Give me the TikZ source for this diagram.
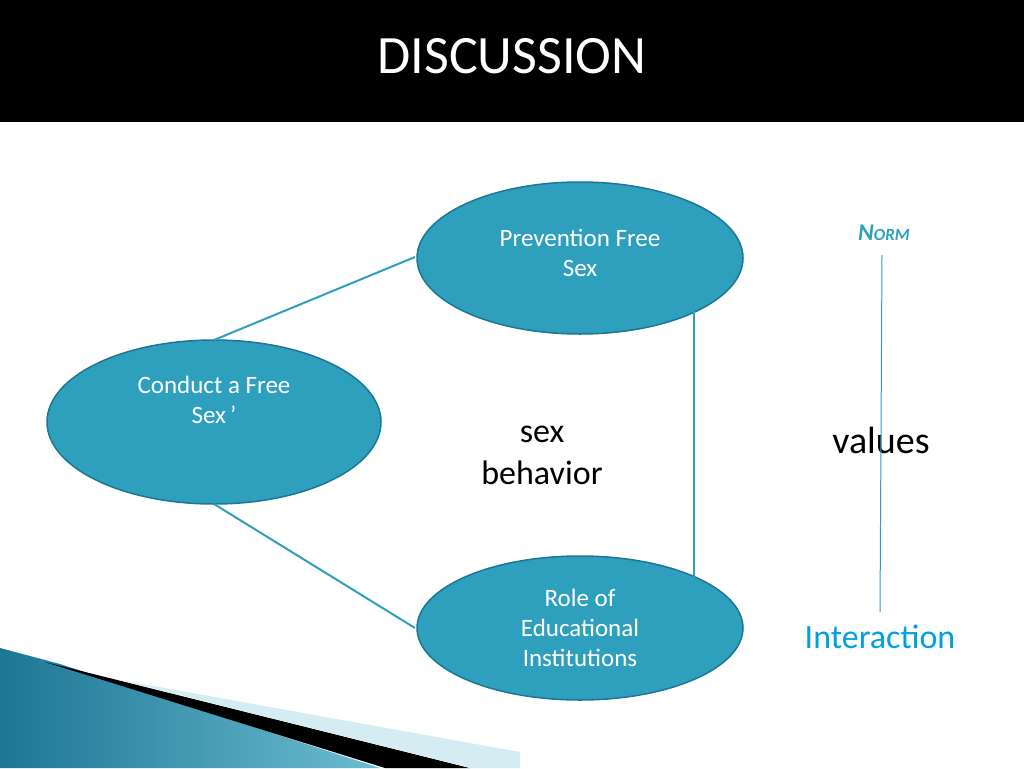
\documentclass[tikz,border=0pt]{standalone}
\usepackage{fontspec}
\setmainfont{Carlito}
\definecolor{teal1}{RGB}{46,160,190}
\definecolor{tealdk}{RGB}{28,118,148}
\definecolor{ibl}{RGB}{0,160,220}
\begin{document}
\begin{tikzpicture}[x=1pt,y=-1pt,
  ell/.style={ellipse,draw=tealdk,line width=1.5pt,fill=teal1,text=white,align=center,font=\fontsize{25}{30}\selectfont},
  conn/.style={draw=teal1,line width=2pt}]
\usetikzlibrary{shapes.geometric}
\useasboundingbox (0,0) rectangle (1024,768);
\fill[black] (0,0) rectangle (1024,122);
\node[text=white,font=\fontsize{54}{60}\selectfont] (title) at (512,56) {DISCUSSION};
% bottom-left decoration
\shade[left color=tealdk,right color=teal1!70] (0,648) -- (60,664) -- (380,768) -- (0,768) -- cycle;
\fill[black] (45,662) -- (470,768) -- (385,768) -- cycle;
\fill[teal1!20] (120,680) -- (520,752) -- (520,768) -- (470,768) -- cycle;
\node[ell,minimum width=326,minimum height=152] (prev) at (580,258) {Prevention Free\\Sex\\[-0.8em]};
\node[ell,minimum width=334,minimum height=164] (cond) at (214,422) {Conduct a Free\\Sex\,’\\[0.6em]};
\node[ell,minimum width=326,minimum height=144] (role) at (580,628) {Role of\\Educational\\Institutions};
\coordinate (c1) at (214,340); \coordinate (p1) at (415,257);
\coordinate (c2) at (214,504); \coordinate (r1) at (415,628);
\coordinate (p2) at (694,310); \coordinate (r2) at (694,580);
\draw[conn] (c1) -- (p1);
\draw[conn] (c2) -- (r1);
\draw[conn] (p2) -- (r2);
\node[font=\fontsize{34}{42}\selectfont,align=center] (sb) at (542,455) {sex\\behavior};
\node[text=teal1,font=\bfseries\itshape\fontsize{24}{28}\selectfont] (norm) at (884,233) {N{\fontsize{17}{20}\selectfont ORM}};
\node[font=\fontsize{38}{44}\selectfont] (val) at (881,440) {values};
\node[text=ibl,font=\fontsize{34}{40}\selectfont] (inter) at (880,637) {Interaction};
\coordinate (v1) at (882,255); \coordinate (v2) at (880,612);
\draw[teal1,line width=1pt] (v1) -- (v2);
\end{tikzpicture}
\end{document}
